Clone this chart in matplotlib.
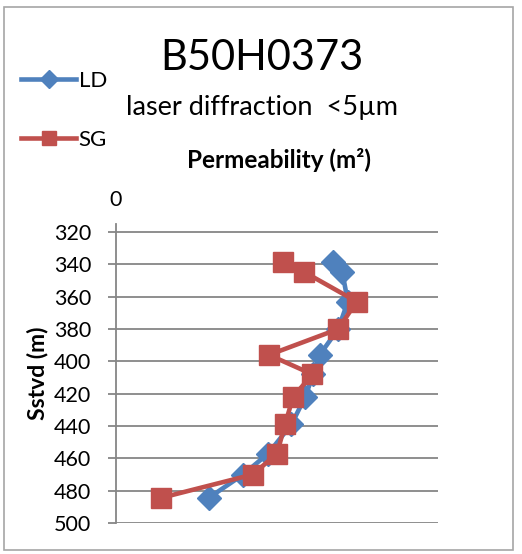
import numpy as np
import matplotlib.pyplot as plt
from matplotlib.patches import Rectangle

# depth (m) of each sample and permeability (x 1e-13 m2)
depth = [338.5, 344.5, 363, 380, 396, 408, 422, 439, 457, 470, 484.5]
perm_ld = [2.70, 2.81, 2.88, 2.76, 2.53, 2.45, 2.35, 2.18, 1.89, 1.58, 1.15]
perm_sg = [2.08, 2.33, 2.99, 2.76, 1.90, 2.44, 2.20, 2.10, 2.00, 1.70, 0.555]
yticks = list(range(320, 501, 20))

blue = '#4F81BD'
red = '#C0504D'
grey = '#868686'

plt.rcParams['font.family'] = ['Lato', 'DejaVu Sans']

fig = plt.figure(figsize=(5.22, 5.54), dpi=100)
fig.patches.append(Rectangle((4/522, 1-550/554), 509/522, 543/554, transform=fig.transFigure,
                             fill=False, edgecolor='#a6a6a6', linewidth=1.2))
ax = fig.add_axes([116/522, 1-523/554, 322/522, 299/554])

ax.plot(perm_ld, depth, color=blue, lw=3.3, marker='D', ms=12, label='LD', zorder=3)
ax.plot(perm_sg, depth, color=red, lw=3.3, marker='s', ms=14, label='SG', zorder=4)

ax.set_xlim(0, 4)
ax.set_ylim(500, 315)
ax.set_yticks(yticks)
ax.set_yticklabels([str(v) for v in yticks], fontsize=15.5)
for v in yticks:
    ax.axhline(v, color=grey, lw=1.3, zorder=1)
ax.xaxis.tick_top()
ax.set_xticks([0])
ax.set_xticklabels(['0'], fontsize=15.5)
ax.tick_params(axis='x', length=0, pad=10)
ax.tick_params(axis='y', length=5.8, width=1.3, color=grey, pad=12)
for s in ['top', 'right', 'bottom']:
    ax.spines[s].set_visible(False)
ax.spines['left'].set_color(grey)
ax.spines['left'].set_linewidth(1.3)

ax.set_ylabel('Sstvd (m)', fontsize=16.5, fontweight='bold', labelpad=4)

fig.text(262/522, 1-58/554, 'B50H0373', fontsize=30, ha='center', va='center')
fig.text(262/522, 1-107/554, 'laser diffraction  <5µm', fontsize=19.5, ha='center', va='center')
fig.text(279/522, 1-160/554, 'Permeability (m²)', fontsize=17.5, fontweight='bold', ha='center', va='center')

fig.legend(loc='upper left', bbox_to_anchor=(12/522, 1-62/554), frameon=False, fontsize=16,
           labelspacing=1.75, handlelength=2.5, handletextpad=0.1, borderaxespad=0,
           markerscale=0.75)

fig.savefig('out.png', dpi=100)
